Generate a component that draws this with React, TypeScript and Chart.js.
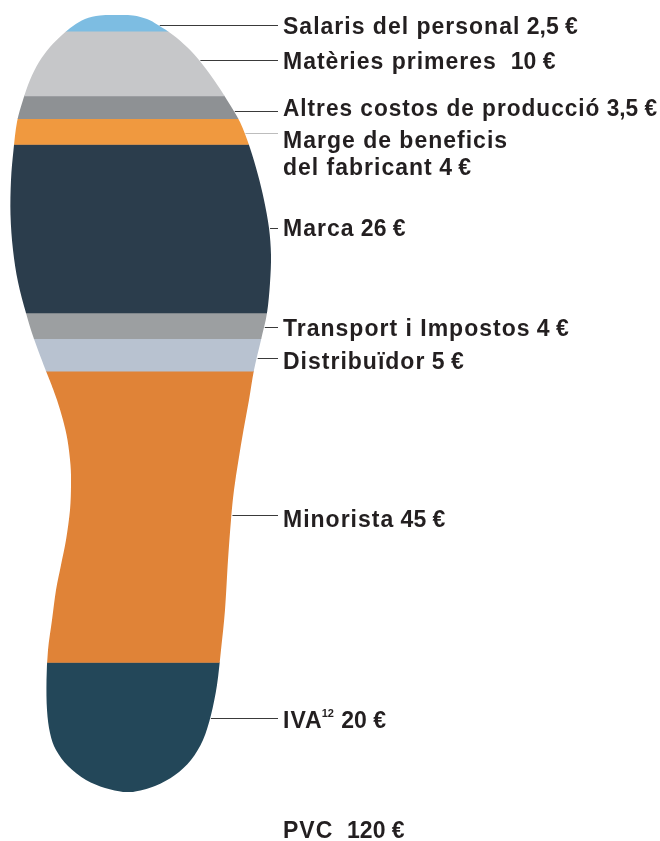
import React, { useEffect, useRef } from "react";
import { Chart, registerables } from "chart.js";

Chart.register(...registerables);

// ---- data ----
const categories = [
  "Salaris del personal",
  "Matèries primeres ",
  "Altres costos de producció",
  "Marge de beneficis\ndel fabricant",
  "Marca",
  "Transport i Impostos",
  "Distribuïdor",
  "Minorista",
  "IVA",
];
const values = [2.5, 10, 3.5, 4, 26, 4, 5, 45, 20];
const valueLabels = ["2,5 €", "10 €", "3,5 €", "4 €", "26 €", "4 €", "5 €", "45 €", "20 €"];
const footnotes = ["", "", "", "", "", "", "", "", "12"];
const totalLabel = "PVC";
const totalValue = "120 €";
const totalMax = 120;

// ---- style ----
const colors = [
  "#7dbde2",
  "#c6c7c9",
  "#8e9194",
  "#f0993f",
  "#2b3d4c",
  "#9c9fa1",
  "#b8c2d0",
  "#e08337",
  "#234759",
];
const lineColors = ["#3a3a3a", "#3a3a3a", "#3a3a3a", "#bdbdbd", "#3a3a3a", "#3a3a3a", "#3a3a3a", "#3a3a3a", "#3a3a3a"];
// leader-line shift from band middle, and text baseline shift from leader line (px)
const lineShift = [2, -4, 4, 1.5, -1, 1, 3, -2, -9];
const textShift = [8, 8, 4, 14, 7, 8, 10, 11, 9];

// sole outline in design box: x 0..280, y 15..792
const rightEdge: [number, number][] = [
  [133, 15.5], [147, 19], [158, 25], [173, 35], [187, 47], [199, 60], [214, 80],
  [227, 100], [240, 122], [250, 148], [258, 175], [264, 200], [269, 228], [271, 255],
  [270, 283], [267, 313], [261, 340], [254, 370], [249, 400], [243.5, 430], [238.5, 460],
  [234, 490], [231, 520], [228, 560], [225, 610], [221, 650], [217, 685], [211, 715],
  [203, 740], [191, 760], [175, 775], [155, 786], [133, 792],
];
const leftEdge: [number, number][] = [
  [123, 792], [105, 788], [86, 780], [68, 766], [56, 750], [50, 733], [47, 710],
  [46.5, 680], [48, 650], [52, 620], [56, 590], [61, 565], [66, 540], [70, 510],
  [71, 485], [70.5, 465], [67.5, 440], [63, 420], [57, 400], [50, 381], [46, 371],
  [34, 339], [26, 313], [18, 282], [13, 250], [10.5, 215], [11, 180], [13.5, 150],
  [17, 122], [23, 100], [30, 80], [39, 62], [50, 47], [62, 35], [73, 26], [85, 19],
  [100, 15.5], [117, 15],
];

const DESIGN_W = 280;
const DESIGN_TOP = 15;
const DESIGN_H = 777;

function mapPt(area: any, p: [number, number]): [number, number] {
  return [
    area.left + (p[0] / DESIGN_W) * (area.right - area.left),
    area.top + ((p[1] - DESIGN_TOP) / DESIGN_H) * (area.bottom - area.top),
  ];
}

function solePath(ctx: CanvasRenderingContext2D, area: any) {
  const pts = [...rightEdge, ...leftEdge].map((p) => mapPt(area, p));
  const n = pts.length;
  ctx.beginPath();
  ctx.moveTo(pts[0][0], pts[0][1]);
  for (let i = 0; i < n; i++) {
    const p0 = pts[(i - 1 + n) % n];
    const p1 = pts[i];
    const p2 = pts[(i + 1) % n];
    const p3 = pts[(i + 2) % n];
    const c1x = p1[0] + (p2[0] - p0[0]) / 6;
    const c1y = p1[1] + (p2[1] - p0[1]) / 6;
    const c2x = p2[0] - (p3[0] - p1[0]) / 6;
    const c2y = p2[1] - (p3[1] - p1[1]) / 6;
    ctx.bezierCurveTo(c1x, c1y, c2x, c2y, p2[0], p2[1]);
  }
  ctx.closePath();
}

function rightXAt(area: any, y: number): number {
  const pts = rightEdge.map((p) => mapPt(area, p));
  for (let i = 0; i < pts.length - 1; i++) {
    const a = pts[i];
    const b = pts[i + 1];
    if (y >= a[1] && y <= b[1]) {
      const t = (y - a[1]) / (b[1] - a[1] || 1);
      return a[0] + t * (b[0] - a[0]);
    }
  }
  return pts[0][0];
}

const FONT_FAMILY = '"Liberation Sans", Arial, sans-serif';
const TEXT_COLOR = "#231f20";
const NAME_FONT = `bold 23px ${FONT_FAMILY}`;
const SUP_FONT = `bold 11px ${FONT_FAMILY}`;

function drawLabelLine(
  ctx: CanvasRenderingContext2D,
  x0: number,
  y: number,
  name: string,
  sup: string,
  value: string,
  maxW: number
) {
  const setFont = (f: string, ls: string) => {
    ctx.font = f;
    (ctx as any).letterSpacing = ls;
  };
  setFont(NAME_FONT, "1px");
  const wName = ctx.measureText(name).width;
  let wSup = 0;
  if (sup) {
    setFont(SUP_FONT, "0px");
    wSup = ctx.measureText(sup).width;
  }
  let wVal = 0;
  if (value) {
    setFont(NAME_FONT, "0px");
    wVal = ctx.measureText(" " + value).width;
  }
  const total = wName + wSup + wVal;
  const sx = total > maxW ? maxW / total : 1;
  ctx.save();
  ctx.translate(x0, y);
  ctx.scale(sx, 1);
  let x = 0;
  setFont(NAME_FONT, "1px");
  ctx.fillText(name, x, 0);
  x += wName;
  if (sup) {
    setFont(SUP_FONT, "0px");
    ctx.fillText(sup, x - 1, -11);
    x += wSup;
  }
  if (value) {
    setFont(NAME_FONT, "0px");
    ctx.fillText(" " + value, x, 0);
  }
  ctx.restore();
}

const solePlugin = {
  id: "soleClip",
  beforeDatasetsDraw(chart: any) {
    const ctx = chart.ctx;
    ctx.save();
    solePath(ctx, chart.chartArea);
    ctx.clip();
  },
  afterDatasetsDraw(chart: any) {
    chart.ctx.restore();
  },
  afterDraw(chart: any) {
    const ctx: CanvasRenderingContext2D = chart.ctx;
    const area = chart.chartArea;
    const yScale = chart.scales.y;
    const lineEnd = 278;
    const textX = 283;
    const maxW = chart.width - textX - 3;
    let cum = 0;
    ctx.save();
    ctx.fillStyle = TEXT_COLOR;
    ctx.textBaseline = "alphabetic";
    ctx.textAlign = "left";
    for (let i = 0; i < values.length; i++) {
      const midVal = cum + values[i] / 2;
      cum += values[i];
      const ly = Math.round(yScale.getPixelForValue(midVal) + lineShift[i]) + 0.5;
      const lx = rightXAt(area, ly) + 1;
      ctx.strokeStyle = lineColors[i];
      ctx.lineWidth = 1;
      ctx.beginPath();
      ctx.moveTo(lx, ly);
      ctx.lineTo(lineEnd, ly);
      ctx.stroke();

      const lines = categories[i].split("\n");
      let by = ly + textShift[i];
      lines.forEach((ln, k) => {
        const last = k === lines.length - 1;
        drawLabelLine(ctx, textX, by, ln, last ? footnotes[i] : "", last ? valueLabels[i] : "", maxW);
        by += 27;
      });
    }
    drawLabelLine(ctx, textX, yScale.getPixelForValue(totalMax) + 46, totalLabel + " ", "", totalValue, maxW);
    ctx.restore();
  },
};

export default function App() {
  const ref = useRef<HTMLCanvasElement | null>(null);
  useEffect(() => {
    if (!ref.current) return;
    const chart = new Chart(ref.current, {
      type: "bar",
      data: {
        labels: [""],
        datasets: categories.map((c, i) => ({
          label: c,
          data: [values[i]],
          backgroundColor: colors[i],
          borderWidth: 0,
          barPercentage: 1,
          categoryPercentage: 1,
        })),
      },
      options: {
        animation: false,
        responsive: false,
        maintainAspectRatio: false,
        devicePixelRatio: 1,
        layout: { padding: { left: 0, right: 380, top: 15, bottom: 49 } },
        scales: {
          x: { display: false, stacked: true },
          y: { display: false, stacked: true, reverse: true, min: 0, max: totalMax },
        },
        plugins: { legend: { display: false }, tooltip: { enabled: false } },
      },
      plugins: [solePlugin],
    });
    return () => chart.destroy();
  }, []);
  return (
    <div style={{ position: "fixed", left: 0, top: 0, width: 660, height: 841, background: "#fff" }}>
      <canvas ref={ref} width={660} height={841} />
    </div>
  );
}
